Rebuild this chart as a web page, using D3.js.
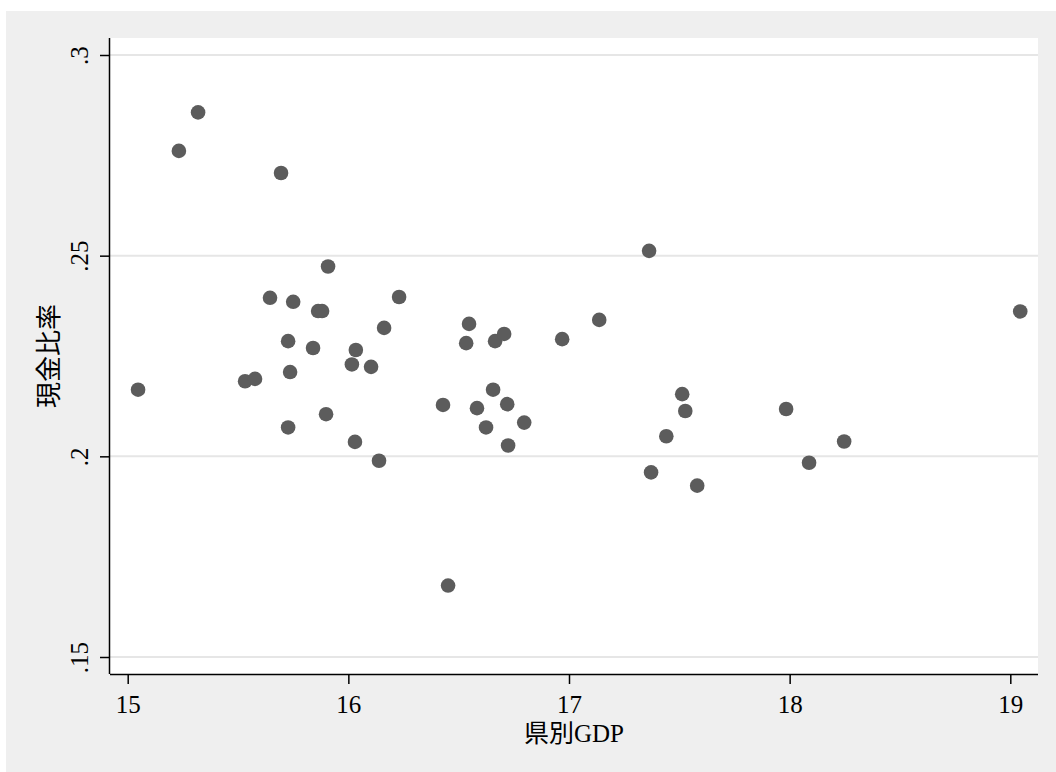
<!DOCTYPE html>
<html>
<head>
<meta charset="utf-8">
<script src="https://cdn.jsdelivr.net/npm/d3@7"></script>
<style>
  html, body { margin: 0; padding: 0; background: #ffffff; }
  svg { display: block; }
  .serif { font-family: "Liberation Serif", "Times New Roman", serif; }
  .cjk { font-family: "Noto Sans CJK JP", "Noto Sans CJK SC", sans-serif; }
</style>
</head>
<body>
<svg id="chart" width="1056" height="772"></svg>
<script>
// Prefecture GDP (log) against cash ratio, one point per prefecture
const gdp = [
  15.047, 15.232, 15.319, 15.695, 15.532, 15.577, 15.645, 15.750, 15.727, 15.736,
  15.727, 15.840, 15.863, 15.881, 15.908, 15.899, 16.016, 16.034, 16.030, 16.103,
  16.139, 16.162, 16.230, 16.429, 16.452, 16.534, 16.547, 16.583, 16.624, 16.656,
  16.665, 16.706, 16.720, 16.724, 16.797, 16.969, 17.137, 17.363, 17.372, 17.513,
  17.527, 17.441, 17.581, 17.984, 18.088, 18.247, 19.045
];
const cashRatio = [
  0.2166, 0.2761, 0.2857, 0.2706, 0.2187, 0.2193, 0.2395, 0.2385, 0.2287, 0.2210,
  0.2072, 0.2270, 0.2362, 0.2362, 0.2473, 0.2105, 0.2229, 0.2265, 0.2036, 0.2223,
  0.1989, 0.2320, 0.2397, 0.2128, 0.1678, 0.2282, 0.2330, 0.2120, 0.2072, 0.2166,
  0.2287, 0.2305, 0.2130, 0.2027, 0.2084, 0.2292, 0.2340, 0.2512, 0.1960, 0.2155,
  0.2113, 0.2050, 0.1927, 0.2118, 0.1984, 0.2037, 0.2361
];
const xTicks = [15, 16, 17, 18, 19];
const yTicks = [0.15, 0.2, 0.25, 0.3];
const xTitle = ["県別", "GDP"];
const yTitle = "現金比率";

const svg = d3.select("#chart");
const W = 1056, H = 772;
const plot = { left: 110, top: 38, right: 1038, bottom: 674 };

const x = d3.scaleLinear().domain([15, 19]).range([127.7, 1010.3]);
const y = d3.scaleLinear().domain([0.15, 0.3]).range([657, 55]);

// outer graph region
svg.append("rect").attr("x", 6).attr("y", 11).attr("width", W - 6).attr("height", H - 11)
  .attr("fill", "#efefef");
// plot region
svg.append("rect").attr("x", plot.left).attr("y", plot.top)
  .attr("width", plot.right - plot.left).attr("height", plot.bottom - plot.top)
  .attr("fill", "#ffffff");

// horizontal grid lines
svg.append("g").selectAll("line").data(yTicks).join("line")
  .attr("x1", plot.left).attr("x2", plot.right)
  .attr("y1", d => y(d)).attr("y2", d => y(d))
  .attr("stroke", "#e6e6e6").attr("stroke-width", 2);

// points
svg.append("g").selectAll("circle").data(gdp.map((g, i) => [g, cashRatio[i]])).join("circle")
  .attr("cx", d => x(d[0])).attr("cy", d => y(d[1])).attr("r", 7.3)
  .attr("fill", "#5c5c5c");

// x axis
const xAxis = svg.append("g").attr("transform", `translate(0,${plot.bottom})`)
  .call(d3.axisBottom(x).tickValues(xTicks).tickFormat(d3.format("d")).tickSize(10));
xAxis.attr("font-family", null).attr("font-size", null);
xAxis.select(".domain").attr("d", `M${plot.left},0.5H${plot.right}`)
  .attr("stroke", "#000").attr("stroke-width", 1.5);
xAxis.selectAll(".tick line").attr("stroke", "#000").attr("stroke-width", 1.5);
xAxis.selectAll(".tick text")
  .attr("class", "serif").style("font-size", "25px").attr("fill", "#000")
  .attr("y", 39).attr("dy", null);

// y axis
const fmtY = d => d3.format(".2~f")(d).replace(/^0/, "");
const yAxis = svg.append("g").attr("transform", `translate(${plot.left},0)`)
  .call(d3.axisLeft(y).tickValues(yTicks).tickFormat(fmtY).tickSize(10));
yAxis.attr("font-family", null).attr("font-size", null);
yAxis.select(".domain").attr("d", `M-0.5,${plot.top}V${plot.bottom}`)
  .attr("stroke", "#000").attr("stroke-width", 1.5);
yAxis.selectAll(".tick line").attr("stroke", "#000").attr("stroke-width", 1.5);
yAxis.selectAll(".tick text")
  .attr("class", "serif").style("font-size", "25px").attr("fill", "#000")
  .attr("x", null).attr("dy", null)
  .attr("text-anchor", "middle")
  .attr("transform", "translate(-22,0) rotate(-90)");

// axis titles
const xt = svg.append("text")
  .attr("x", (plot.left + plot.right) / 2).attr("y", 742)
  .attr("text-anchor", "middle").style("font-size", "25px").attr("fill", "#000");
xt.append("tspan").attr("class", "cjk").text(xTitle[0]);
xt.append("tspan").attr("class", "serif").text(xTitle[1]);

svg.append("text")
  .attr("transform", `translate(58,${(plot.top + plot.bottom) / 2}) rotate(-90)`)
  .attr("text-anchor", "middle").attr("class", "cjk").style("font-size", "26px")
  .attr("fill", "#000").text(yTitle);
</script>
</body>
</html>
